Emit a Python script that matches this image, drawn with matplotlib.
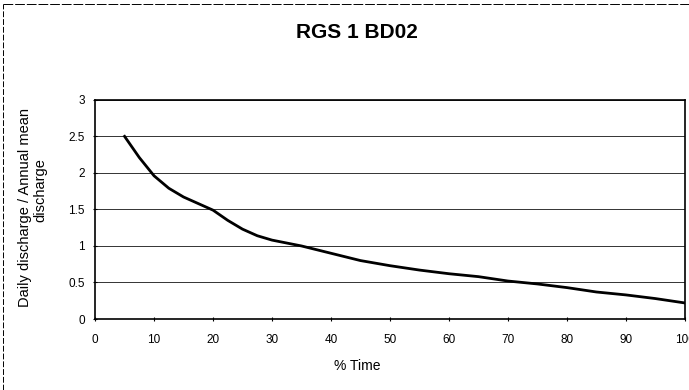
import matplotlib
matplotlib.use('Agg')
import matplotlib.pyplot as plt
from matplotlib.lines import Line2D

plt.rcParams['font.family'] = ['Liberation Sans', 'DejaVu Sans']

pct_time = [5, 7.5, 10, 12.5, 15, 17.5, 20, 22.5, 25, 27.5, 30, 35, 40, 45, 50,
            55, 60, 65, 70, 75, 80, 85, 90, 95, 100]
ratio = [2.50, 2.21, 1.96, 1.79, 1.67, 1.58, 1.49, 1.35, 1.23, 1.14, 1.08,
         1.00, 0.90, 0.80, 0.73, 0.67, 0.62, 0.58, 0.52, 0.48, 0.43, 0.37,
         0.33, 0.28, 0.22]
y_ticks = [0, 0.5, 1, 1.5, 2, 2.5, 3]
y_labels = ['0', '0.5', '1', '1.5', '2', '2.5', '3']
x_ticks = [0, 10, 20, 30, 40, 50, 60, 70, 80, 90, 100]

fig = plt.figure(figsize=(6.89, 3.90), dpi=100, facecolor='white')
ax = fig.add_axes([0.138, 0.182, 0.856, 0.562])

ax.plot(pct_time, ratio, color='black', linewidth=2.0,
        solid_joinstyle='round')
ax.set_xlim(0, 100)
ax.set_ylim(0, 3)
ax.set_yticks(y_ticks)
ax.set_yticklabels(y_labels)
ax.set_xticks(x_ticks)
ax.tick_params(labelsize=8.5, length=3, width=0.8, color='black',
               direction='inout')
ax.tick_params(axis='x', pad=9)
ax.tick_params(axis='y', pad=6)
ax.grid(True, axis='y', color='#333333', linewidth=0.7)
for sp in ax.spines.values():
    sp.set_edgecolor('black')
    sp.set_linewidth(1.2)

fig.text(0.518, 0.062, '% Time', ha='center', va='center', fontsize=10)
# y label, two lines (second one sits a bit higher in the original)
fig.text(0.036, 0.469, 'Daily discharge / Annual mean', ha='center',
         va='center', rotation=90, fontsize=10.5)
fig.text(0.058, 0.513, 'discharge', ha='center', va='center',
         rotation=90, fontsize=10.5)
fig.text(0.518, 0.917, 'RGS 1 BD02', ha='center', va='center',
         fontsize=15, fontweight='bold')

# frame of the scanned chart
fig.add_artist(Line2D([0.005, 0.005], [0.0, 0.99], color='black',
                      linewidth=0.7, linestyle=(0, (6, 2))))
fig.add_artist(Line2D([0.005, 1.0], [0.99, 0.99], color='black',
                      linewidth=0.7, linestyle=(0, (10, 2))))

plt.savefig('out.png', dpi=100, facecolor='white')
